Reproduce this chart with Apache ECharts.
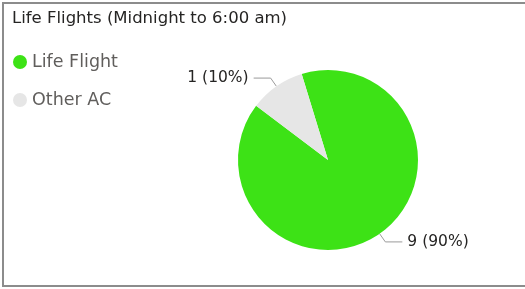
<!DOCTYPE html>
<html>
<head>
<meta charset="utf-8">
<script src="https://cdn.jsdelivr.net/npm/echarts@6/dist/echarts.min.js"></script>
<style>
  html, body { margin: 0; padding: 0; background: #fff; }
  #frame { position: absolute; left: 2px; top: 2px; width: 530px; height: 285px; border: 2px solid #8c8c8c; box-sizing: border-box; }
  #main { position: absolute; left: 0; top: 0; width: 525px; height: 289px; }
</style>
</head>
<body>
<div id="main"></div>
<div id="frame"></div>
<script>
// slices
var categories = ['Life Flight', 'Other AC'];
var counts = [9, 1];
var colors = ['#3de216', '#e6e6e6'];

var chart = echarts.init(document.getElementById('main'));

var pieData = categories.map(function (name, i) {
  return { name: name, value: counts[i], itemStyle: { color: colors[i] } };
});

var option = {
  animation: false,
  title: {
    text: 'Life Flights (Midnight to 6:00 am)',
    left: 7,
    top: 5,
    textStyle: { fontFamily: 'DejaVu Sans', fontSize: 16.5, fontWeight: 'normal', color: '#252423' }
  },
  legend: {
    orient: 'vertical',
    left: 8,
    top: 47,
    icon: 'circle',
    itemWidth: 14,
    itemHeight: 14,
    itemGap: 18,
    data: categories,
    textStyle: { fontFamily: 'DejaVu Sans', fontSize: 17.5, lineHeight: 20, color: '#605e5c' }
  },
  series: [{
    type: 'pie',
    center: [328, 160],
    radius: 90,
    startAngle: 107,
    clockwise: true,
    data: pieData,
    emphasis: { disabled: true },
    label: {
      show: true,
      formatter: '{c} ({d}%)',
      fontFamily: 'DejaVu Sans',
      fontSize: 15.5,
      color: '#252423'
    },
    labelLine: {
      show: true,
      length: 10,
      length2: 17,
      lineStyle: { color: '#9a9a9a', width: 1 }
    }
  }]
};

chart.setOption(option);
</script>
</body>
</html>
